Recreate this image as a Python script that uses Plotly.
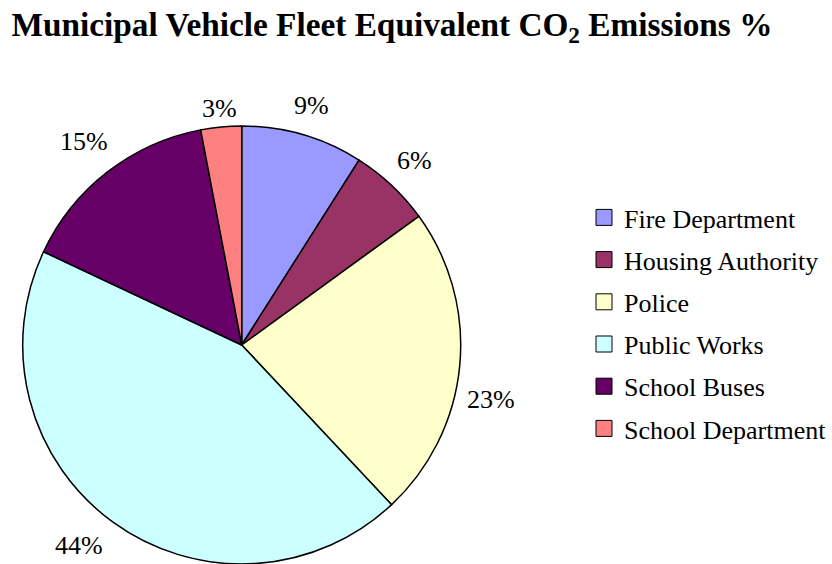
import math
import plotly.graph_objects as go

# Fleet emissions share by department (percent)
departments = ["Fire Department", "Housing Authority", "Police",
               "Public Works", "School Buses", "School Department"]
shares = [9, 6, 23, 44, 15, 3]
colors = ["#9999FF", "#993366", "#FFFFCC", "#CCFFFF", "#660066", "#FF8080"]

SERIF = "Liberation Serif, Times New Roman, serif"
W, H = 832, 564

# Pie placement in pixels (left, right, top, bottom of its box)
PIE_L, PIE_R, PIE_T, PIE_B = 20, 464, 126, 564
cx = (PIE_L + PIE_R) / 2
cy = (PIE_T + PIE_B) / 2
radius = min(PIE_R - PIE_L, PIE_B - PIE_T) / 2

# Per-label placement tweaks: extra angle (deg) and radial trim (px)
label_turn = [0, 0, 7, 3, 0, 0]
label_trim = [0, 0, -4, 0, 0, -10]

fig = go.Figure()

fig.add_trace(go.Pie(
    labels=departments,
    values=shares,
    sort=False,
    direction="clockwise",
    rotation=0,
    marker=dict(colors=colors, line=dict(color="black", width=1.5)),
    textinfo="none",
    showlegend=False,
    hoverinfo="label+percent",
    domain=dict(x=[PIE_L / W, PIE_R / W], y=[1 - PIE_B / H, 1 - PIE_T / H]),
))

# Percent labels set just outside each slice, near the slice's mid-angle
total = sum(shares)
cum = 0
for v, turn, trim in zip(shares, label_turn, label_trim):
    mid = (cum + v / 2) / total * 2 * math.pi + math.radians(turn)
    cum += v
    s, c = math.sin(mid), math.cos(mid)
    half_w = 9 * len(f"{v}%") - 3
    dist = radius + 14 + abs(s) * half_w + abs(c) * 13 + trim
    px = cx + dist * s
    py = cy - dist * c
    fig.add_annotation(
        x=px / W, y=1 - py / H, xref="paper", yref="paper",
        text=f"{v}%", showarrow=False, xanchor="center", yanchor="middle",
        font=dict(family=SERIF, size=26, color="black"),
    )

# Legend entries, one group per department so spacing can be controlled
for name, col in zip(departments, colors):
    fig.add_trace(go.Scatter(
        x=[None], y=[None], mode="markers", name=name, legendgroup=name,
        marker=dict(symbol="square", size=16, color=col,
                    line=dict(color="black", width=1)),
    ))

fig.update_layout(
    width=W, height=H,
    margin=dict(l=0, r=0, t=0, b=0),
    paper_bgcolor="white", plot_bgcolor="white",
    xaxis=dict(visible=False), yaxis=dict(visible=False),
    title=dict(
        text="<b>Municipal Vehicle Fleet Equivalent CO<sub>2</sub> Emissions %</b>",
        x=392 / W, xanchor="center", y=1 - 24 / H, yanchor="middle",
        font=dict(family=SERIF, size=33.3, color="black"),
    ),
    legend=dict(
        x=585 / W, xanchor="left", y=1 - 194 / H, yanchor="top",
        font=dict(family=SERIF, size=26, color="black"),
        tracegroupgap=5.4, itemclick=False, bgcolor="rgba(0,0,0,0)",
    ),
)

fig.write_html("out.html")
